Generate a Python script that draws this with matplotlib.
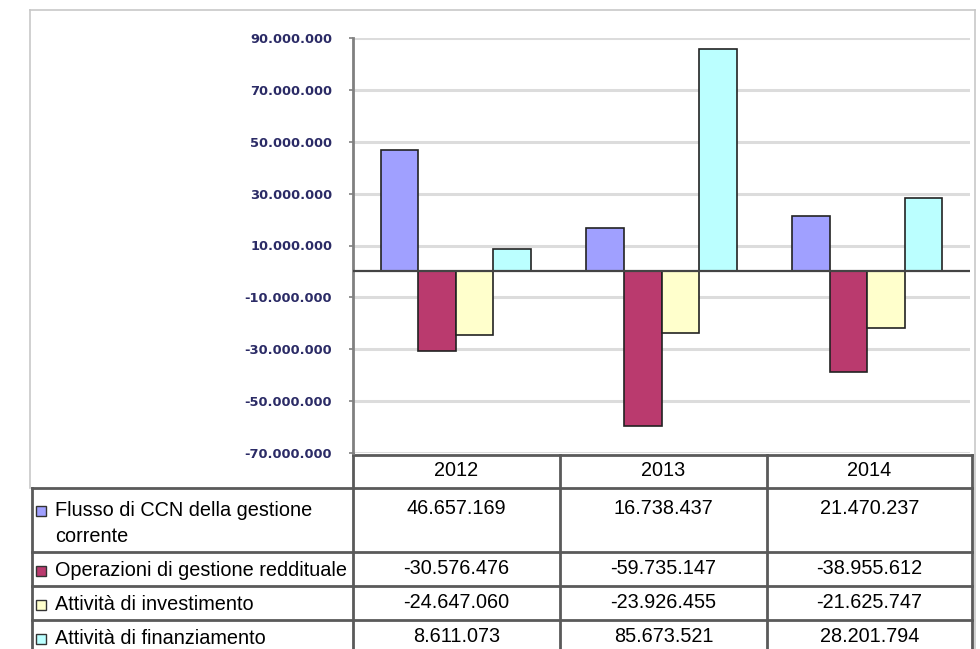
import matplotlib
matplotlib.use("Agg")
import matplotlib.pyplot as plt
import numpy as np
from matplotlib.patches import Rectangle

# dati del rendiconto finanziario
anni = ["2012", "2013", "2014"]
voci = ["Flusso di CCN della gestione\ncorrente",
        "Operazioni di gestione reddituale",
        "Attività di investimento",
        "Attività di finanziamento"]
flusso_ccn = [46657169, 16738437, 21470237]
operazioni = [-30576476, -59735147, -38955612]
investimento = [-24647060, -23926455, -21625747]
finanziamento = [8611073, 85673521, 28201794]
serie = [flusso_ccn, operazioni, investimento, finanziamento]
colori = ["#A0A0FF", "#BA3A6E", "#FFFFCC", "#BBFFFF"]
tick_vals = [90000000, 70000000, 50000000, 30000000, 10000000,
             -10000000, -30000000, -50000000, -70000000]


def fmt(v):
    return f"{v:,}".replace(",", ".")


W, H = 980, 649
fig = plt.figure(figsize=(W / 100, H / 100), dpi=100)
plt.rcParams['font.family'] = ['Liberation Sans', 'DejaVu Sans']

# layer in pixel coordinates for frame and data table
base = fig.add_axes([0, 0, 1, 1])
base.set_xlim(0, W)
base.set_ylim(H, 0)
base.axis('off')

# chart area
x0, x1, y_top, y_bot = 353, 970, 38, 453
ax = fig.add_axes([x0 / W, (H - y_bot) / H, (x1 - x0) / W, (y_bot - y_top) / H])
ax.set_ylim(-70000000, 90000000)
ax.set_xlim(-0.5, 2.5)
ax.set_yticks(tick_vals)
ax.set_yticklabels([fmt(t) for t in tick_vals], fontsize=9.4, fontweight='bold',
                   color='#2B2B66', family='DejaVu Sans')
ax.tick_params(axis='y', length=3, width=1.2, color='#808080', pad=12)
ax.tick_params(axis='x', length=0, labelbottom=False)
ax.grid(axis='y', color='#DCDCDC', lw=2.2)
ax.set_axisbelow(True)
for s in ['top', 'right', 'bottom']:
    ax.spines[s].set_visible(False)
ax.spines['left'].set_color('#808080')
ax.spines['left'].set_linewidth(2)

x = np.arange(len(anni))
bw = 0.183
for i, (vals, c) in enumerate(zip(serie, colori)):
    ax.bar(x + (i - 1.5) * bw, vals, width=bw, color=c, edgecolor='#222222',
           linewidth=1.2, zorder=3)
ax.axhline(0, color='#444444', lw=1.6, zorder=4)

# outer frame
frame = '#C8C8C8'
base.plot([30, 975], [10, 10], color=frame, lw=1.2)
base.plot([30, 30], [10, 488], color=frame, lw=1.2)
base.plot([975, 975], [10, H], color=frame, lw=1.2)

# data table
lc = '#5A5A5A'
lw = 2
cols = [353, 560, 767, 972]
rows = [488, 552, 586, 620, 654]
base.plot([353, 972], [455, 455], color=lc, lw=lw)
for r in rows:
    base.plot([32, 972], [r, r], color=lc, lw=lw)
base.plot([32, 32], [488, H], color=lc, lw=lw)
for cx in cols:
    base.plot([cx, cx], [455 if cx != 353 else 453, H], color=lc, lw=lw)

fs = 14.3
for j, a in enumerate(anni):
    base.text((cols[j] + cols[j + 1]) / 2, 471, a, ha='center', va='center', fontsize=fs)

for i, (voce, vals, c) in enumerate(zip(voci, serie, colori)):
    top, bot = rows[i], rows[i + 1]
    if i == 0:
        yt = top + 22
    else:
        yt = (top + bot) / 2 + 1
    base.add_patch(Rectangle((36, yt - 4), 10, 10, facecolor=c, edgecolor='#333333', lw=1))
    base.text(55, yt - 9 if i == 0 else yt, voce, ha='left',
              va='top' if i == 0 else 'center', fontsize=fs, linespacing=1.5)
    for j, v in enumerate(vals):
        base.text((cols[j] + cols[j + 1]) / 2, yt - 1, fmt(v), ha='center', va='center',
                  fontsize=fs)

fig.savefig("out.png", dpi=100)
